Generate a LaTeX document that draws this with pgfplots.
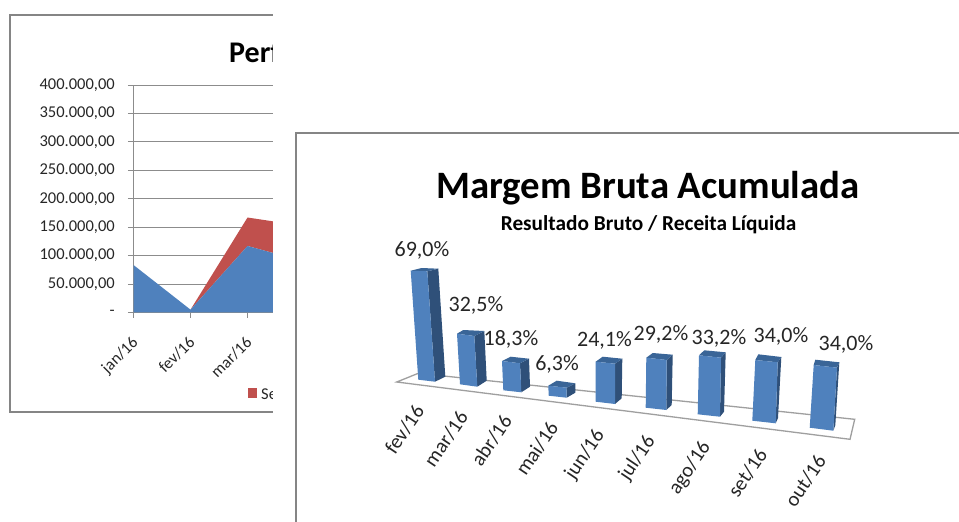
\documentclass[border=0pt]{standalone}
\usepackage{fontspec}
\setmainfont{Carlito}
\usepackage{pgfplots}
\pgfplotsset{compat=1.18}
\definecolor{fr}{HTML}{4F81BD}
\definecolor{sd}{HTML}{2F5079}
\definecolor{tp}{HTML}{3A6597}
\definecolor{frm}{HTML}{858585}
\definecolor{grd}{HTML}{8C8C8C}
\definecolor{txt}{HTML}{262626}
\definecolor{red1}{HTML}{C0504D}
\begin{document}
\begin{tikzpicture}[x=1pt,y=1pt]
\path[use as bounding box] (0,0) rectangle (959,522);
% left chart frame
\draw[frm,line width=1.4pt] (10,110) rectangle (400,507);
\begin{axis}[
  at={(133.5pt,209.5pt)},anchor=south west,scale only axis,
  width=139.5pt,height=227.5pt,
  xmin=0,xmax=2.447,ymin=0,ymax=400000,
  xtick={0,1,2},xticklabels={jan/16,fev/16,mar/16},
  ytick={0,50000,100000,150000,200000,250000,300000,350000,400000},
  yticklabels={-,{50.000,00},{100.000,00},{150.000,00},{200.000,00},{250.000,00},{300.000,00},{350.000,00},{400.000,00}},
  scaled y ticks=false,
  ymajorgrids,grid style={grd,line width=0.9pt},
  axis x line*=bottom,axis y line*=left,
  axis line style={grd,line width=0.9pt,-},
  tick style={grd,line width=0.9pt},
  major tick length=5.5pt,tick align=outside,
  tick label style={font=\fontsize{16.5}{18}\selectfont,text=txt},
  x tick label style={rotate=45,anchor=north east,inner sep=2pt,xshift=-12pt,yshift=-8pt},
  y tick label style={inner sep=2pt,xshift=-11pt},
]
\addplot[fill=red1,draw=none,forget plot] coordinates {(1,5000) (2,167000) (3,152000) (3,89500) (2,117000) (1,5000)};
\addplot[fill=fr,draw=none,forget plot] coordinates {(0,0) (0,83500) (1,5000) (2,117000) (3,89500) (3,0) (0,0)};
\end{axis}
\node[anchor=west,inner sep=0,font=\fontsize{30}{32}\selectfont\bfseries,text=black] at (229,470) {Perf};
\fill[red1] (248,124) rectangle (257,134);
\node[anchor=west,inner sep=0,font=\fontsize{16.5}{18}\selectfont,text=txt] at (261,128) {Se};
% cover
\fill[white] (273,0) rectangle (959,522);
\begin{axis}[
  at={(0,0)},anchor=south west,scale only axis,width=959pt,height=522pt,
  xmin=0,xmax=959,ymin=0,ymax=522,y dir=reverse,hide axis,clip=false,
  every axis plot/.append style={forget plot,no markers},
]
% right frame
\addplot[frm,line width=1.4pt] coordinates {(296,522) (296,133) (959,133)};
% floor
\addplot[fill=white,draw=gray!75,line width=1.3pt] coordinates {(418.3,373.3) (396.7,382) (850,439.3) (854.7,419.3) (418.3,373.3)};
% bars: side, top, front
\addplot[fill=sd,draw=none] coordinates {(427.3,271.3) (438.3,268.7) (445.3,376.7) (435,381.7)};
\addplot[fill=tp,draw=none] coordinates {(410.7,270.7) (427.3,271.3) (438.3,268.7) (421.7,268)};
\addplot[fill=fr,draw=none] coordinates {(410.7,270.7) (427.3,271.3) (435,381.7) (418.3,379.7)};
\addplot[fill=sd,draw=none] coordinates {(474.3,336) (484.3,331) (486.7,380.7) (477.3,386.7)};
\addplot[fill=tp,draw=none] coordinates {(457,333.7) (474.3,336) (484.3,331) (463.3,330)};
\addplot[fill=fr,draw=none] coordinates {(457,333.7) (474.3,336) (477.3,386.7) (460,384.3)};
\addplot[fill=sd,draw=none] coordinates {(520,363.3) (529,358.7) (530,386.7) (521.3,392.3)};
\addplot[fill=tp,draw=none] coordinates {(502,361) (520,363.3) (529,358.7) (510.7,356.7)};
\addplot[fill=fr,draw=none] coordinates {(502,361) (520,363.3) (521.3,392.3) (503.3,390.3)};
\addplot[fill=sd,draw=none] coordinates {(566.7,387.7) (575.3,383.3) (575.3,392.7) (566.7,397.7)};
\addplot[fill=tp,draw=none] coordinates {(548.3,385.7) (566.7,387.7) (575.3,383.3) (556.7,380.7)};
\addplot[fill=fr,draw=none] coordinates {(548.3,385.7) (566.7,387.7) (566.7,397.7) (548.7,395.7)};
\addplot[fill=sd,draw=none] coordinates {(615,363.7) (622.3,358.7) (621.7,398.3) (615,404)};
\addplot[fill=tp,draw=none] coordinates {(595.7,361.7) (615,363.7) (622.3,358.7) (602.7,356.7)};
\addplot[fill=fr,draw=none] coordinates {(595.7,361.7) (615,363.7) (615,404) (595.7,401.7)};
\addplot[fill=sd,draw=none] coordinates {(666.7,360) (672.7,354.7) (671.7,405) (666.3,410)};
\addplot[fill=tp,draw=none] coordinates {(646.3,357.7) (666.7,360) (672.7,354.7) (652.7,353)};
\addplot[fill=fr,draw=none] coordinates {(646.3,357.7) (666.7,360) (666.3,410) (645.7,407.7)};
\addplot[fill=sd,draw=none] coordinates {(721,357.7) (725.7,352.3) (724,411.7) (720,416.7)};
\addplot[fill=tp,draw=none] coordinates {(699,355.3) (721,357.7) (725.7,352.3) (704.3,350.3)};
\addplot[fill=fr,draw=none] coordinates {(699,355.3) (721,357.7) (720,416.7) (697.7,414.3)};
\addplot[fill=sd,draw=none] coordinates {(777.7,362.3) (781.3,357) (778,418) (775.7,423.3)};
\addplot[fill=tp,draw=none] coordinates {(755.3,360) (777.7,362.3) (781.3,357) (758.3,354.3)};
\addplot[fill=fr,draw=none] coordinates {(755.3,360) (777.7,362.3) (775.7,423.3) (752.3,420.7)};
\addplot[fill=sd,draw=none] coordinates {(837,367.7) (839.3,362.3) (835.3,425.3) (833.3,430.7)};
\addplot[fill=tp,draw=none] coordinates {(813.7,365) (837,367.7) (839.3,362.3) (815.3,359.7)};
\addplot[fill=fr,draw=none] coordinates {(813.7,365) (837,367.7) (833.3,430.7) (809.7,427.7)};
% value labels
\tikzset{vl/.style={inner sep=0,font=\fontsize{22}{24}\selectfont,text=txt},
 cl/.style={inner sep=0,font=\fontsize{20.5}{22}\selectfont,text=txt,rotate=56}}
\node[vl] at (axis cs:422,250) {69,0\%};
\node[vl] at (axis cs:476,305.5) {32,5\%};
\node[vl] at (axis cs:511,339) {18,3\%};
\node[vl] at (axis cs:557,364) {6,3\%};
\node[vl] at (axis cs:604.5,340) {24,1\%};
\node[vl] at (axis cs:661,334) {29,2\%};
\node[vl] at (axis cs:719,338) {33,2\%};
\node[vl] at (axis cs:781,336) {34,0\%};
\node[vl] at (axis cs:846,344) {34,0\%};
% category labels
\node[cl] at (axis cs:404.5,429.5) {fev/16};
\node[cl] at (axis cs:446,439) {mar/16};
\node[cl] at (axis cs:491.5,440.5) {abr/16};
\node[cl] at (axis cs:537,448.5) {mai/16};
\node[cl] at (axis cs:585,455) {jun/16};
\node[cl] at (axis cs:637.5,458.5) {jul/16};
\node[cl] at (axis cs:690,468) {ago/16};
\node[cl] at (axis cs:747.5,473) {set/16};
\node[cl] at (axis cs:805.5,481) {out/16};
% titles
\node[inner sep=0,font=\fontsize{38.8}{40}\selectfont\bfseries,text=black] at (axis cs:648,188) {Margem Bruta Acumulada};
\node[inner sep=0,font=\fontsize{21.3}{23}\selectfont\bfseries,text=black] at (axis cs:648.5,225) {Resultado Bruto / Receita Líquida};
\end{axis}
\end{tikzpicture}
\end{document}
